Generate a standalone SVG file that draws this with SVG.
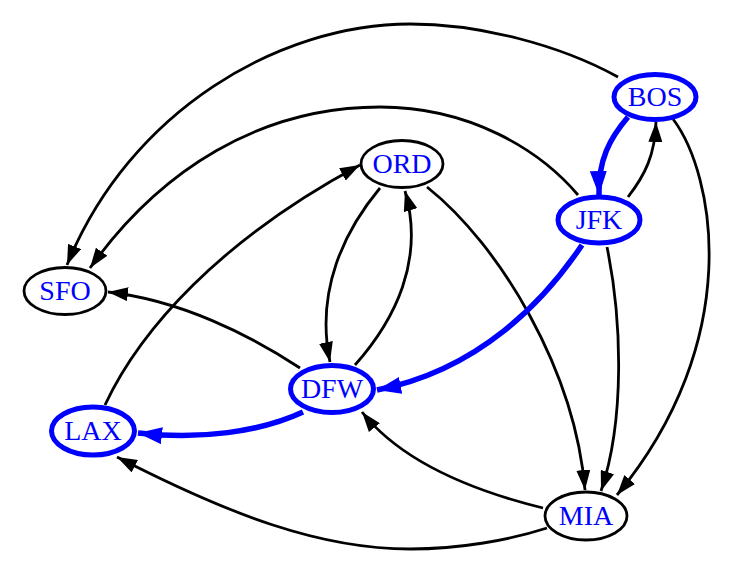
<svg xmlns="http://www.w3.org/2000/svg" width="738" height="575" viewBox="0 0 738 575">
<style>
.e{fill:none;stroke:#000;stroke-width:2.8}
.eb{fill:none;stroke:#0000ff;stroke-width:5.5}
.n ellipse{fill:#fff;stroke:#000;stroke-width:2.8}
.n.h ellipse{stroke:#0000ff;stroke-width:5}
.n text{font-family:"Liberation Serif","Times New Roman",serif;font-size:28px;fill:#0000ff;text-anchor:middle}
</style>
<defs>
<marker id="ak" markerUnits="userSpaceOnUse" markerWidth="20" markerHeight="14" refX="20" refY="7" orient="auto"><path d="M0,0 L20,7 L0,14 z" fill="#000"/></marker>
<marker id="ab" markerUnits="userSpaceOnUse" markerWidth="24" markerHeight="17" refX="24" refY="8.5" orient="auto"><path d="M0,0 L24,8.5 L0,17 z" fill="#0000ff"/></marker>
</defs>
<rect width="738" height="575" fill="#fff"/>
<g id="connectors">
<path class="e" marker-end="url(#ak)" d="M618,77 C560,45 480,24 410,24 C280,24 130,110 67,265"/>
<path class="e" marker-end="url(#ak)" d="M578,195 C540,150 470,107 380,107 C260,107 160,170 90,268"/>
<path class="e" marker-end="url(#ak)" d="M105,405 C140,330 220,240 360,165"/>
<path class="e" marker-end="url(#ak)" d="M300,368 C250,335 180,300 108,292"/>
<path class="e" marker-end="url(#ak)" d="M380,188 C345,230 315,290 330,362"/>
<path class="e" marker-end="url(#ak)" d="M355,365 C395,320 425,260 405,191"/>
<path class="e" marker-end="url(#ak)" d="M427,187 C500,245 575,370 585,490"/>
<path class="e" marker-end="url(#ak)" d="M607,247 C622,320 625,420 601,491"/>
<path class="e" marker-end="url(#ak)" d="M673,119 C715,175 745,340 617,495"/>
<path class="e" marker-end="url(#ak)" d="M628,197 C645,175 655,155 656,122"/>
<path class="eb" marker-end="url(#ab)" d="M628,117 C610,138 598,160 599,195"/>
<path class="eb" marker-end="url(#ab)" d="M582,245 C545,300 480,370 377,390"/>
<path class="eb" marker-end="url(#ab)" d="M303,412 C260,432 200,440 138,433"/>
<path class="e" marker-end="url(#ak)" d="M543,508 C470,490 400,460 362,412"/>
<path class="e" marker-end="url(#ak)" d="M547,528 C510,540 460,549 410,549 C320,549 230,515 117,457"/>
</g>
<g id="BOS" class="n h"><ellipse cx="655" cy="97" rx="41" ry="22.5"/><text x="655" y="106">BOS</text></g>
<g id="JFK" class="n h"><ellipse cx="599" cy="220" rx="41" ry="23"/><text x="599" y="229">JFK</text></g>
<g id="ORD" class="n"><ellipse cx="402" cy="164" rx="41" ry="23.5"/><text x="402" y="173">ORD</text></g>
<g id="SFO" class="n"><ellipse cx="65" cy="291" rx="41" ry="23.5"/><text x="65" y="300">SFO</text></g>
<g id="DFW" class="n h"><ellipse cx="332" cy="389" rx="41.5" ry="23.5"/><text x="332" y="398">DFW</text></g>
<g id="LAX" class="n h"><ellipse cx="93" cy="431" rx="41.5" ry="24"/><text x="93" y="440">LAX</text></g>
<g id="MIA" class="n"><ellipse cx="586" cy="516" rx="41" ry="24"/><text x="586" y="525">MIA</text></g>
</svg>
